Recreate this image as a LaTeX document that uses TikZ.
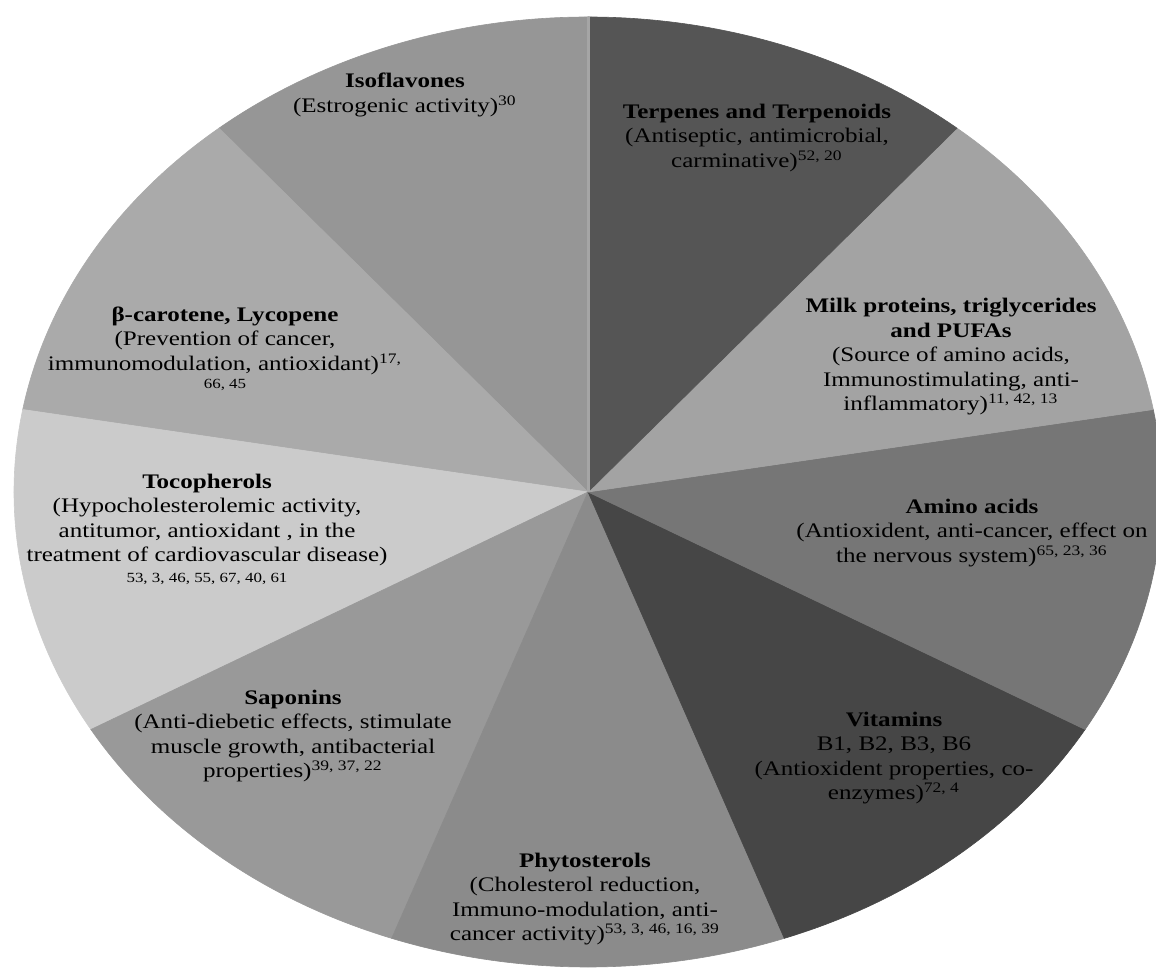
\documentclass[tikz,border=0pt]{standalone}
\usepackage{fontspec}
\setmainfont{Liberation Serif}
\definecolor{isoGray}{RGB}{150,150,150}
\definecolor{betaGray}{RGB}{170,170,170}
\definecolor{tocoGray}{RGB}{203,203,203}
\definecolor{sapoGray}{RGB}{153,153,153}
\definecolor{phytoGray}{RGB}{139,139,139}
\definecolor{vitGray}{RGB}{70,70,70}
\definecolor{aminoGray}{RGB}{118,118,118}
\definecolor{milkGray}{RGB}{163,163,163}
\definecolor{terpGray}{RGB}{85,85,85}
\definecolor{sepGray}{RGB}{165,165,165}
\tikzset{
style1/.style={align=center,inner sep=0pt,xscale=1.21,font=\fontsize{10.35}{12.25}\selectfont},
style2/.style={line width=0.3pt}
}
\newcommand{\refs}[1]{\textsuperscript{#1}}
\newcommand{\refsize}{\fontsize{7}{8}\selectfont}

\begin{document}
\begin{tikzpicture}[x=0.5pt,y=0.5pt]
\useasboundingbox (0,0) rectangle (1156,969);
\clip (0,0) rectangle (1156,969);
\coordinate (o) at (588,477);

% slices, 40 degrees each
\foreach \a/\col in {90/isoGray,130/betaGray,170/tocoGray,210/sapoGray,250/phytoGray,290/vitGray,330/aminoGray,370/milkGray,410/terpGray}
  \filldraw[style2,fill=\col,draw=\col] (o) -- ++(\a:287pt and 237.5pt) arc[start angle=\a,delta angle=40,x radius=287pt,y radius=237.5pt] -- cycle;

\draw[line width=1.5pt,sepGray] (o) -- ++(90:287pt and 237.5pt);

\node[style1] (s1) at (405,874) {\textbf{Isoflavones}\\(Estrogenic activity)\refs{30}};
\node[style1] (s2) at (757,831) {\textbf{Terpenes and Terpenoids}\\(Antiseptic, antimicrobial,\\carminative)\refs{52, 20}};
\node[style1] (s3) at (951,612) {\textbf{Milk proteins, triglycerides}\\\textbf{and PUFAs}\\(Source of amino acids,\\Immunostimulating, anti-\\inflammatory)\refs{11, 42, 13}};
\node[style1] (s4) at (972,436) {\textbf{Amino acids}\\(Antioxident, anti-cancer, effect on\\the nervous system)\refs{65, 23, 36}};
\node[style1] (s5) at (894,211) {\textbf{Vitamins}\\B1, B2, B3, B6\\(Antioxident properties, co-\\enzymes)\refs{72, 4}};
\node[style1] (s6) at (585,70) {\textbf{Phytosterols}\\(Cholesterol reduction,\\Immuno-modulation, anti-\\cancer activity)\refs{53, 3, 46, 16, 39}};
\node[style1] (s7) at (293,233) {\textbf{Saponins}\\(Anti-diebetic effects, stimulate\\muscle growth, antibacterial\\properties)\refs{39, 37,  22}};
\node[style1] (s8) at (207,440) {\textbf{Tocopherols}\\(Hypocholesterolemic activity,\\antitumor, antioxidant , in the\\treatment of cardiovascular disease)\\[-2pt]{\refsize 53, 3, 46, 55, 67, 40, 61}};
\node[style1] (s9) at (225,620) {\textbf{β-carotene, Lycopene}\\(Prevention of cancer,\\immunomodulation, antioxidant)\refs{17,}\\[-3pt]{\refsize 66, 45}};
\end{tikzpicture}
\end{document}
